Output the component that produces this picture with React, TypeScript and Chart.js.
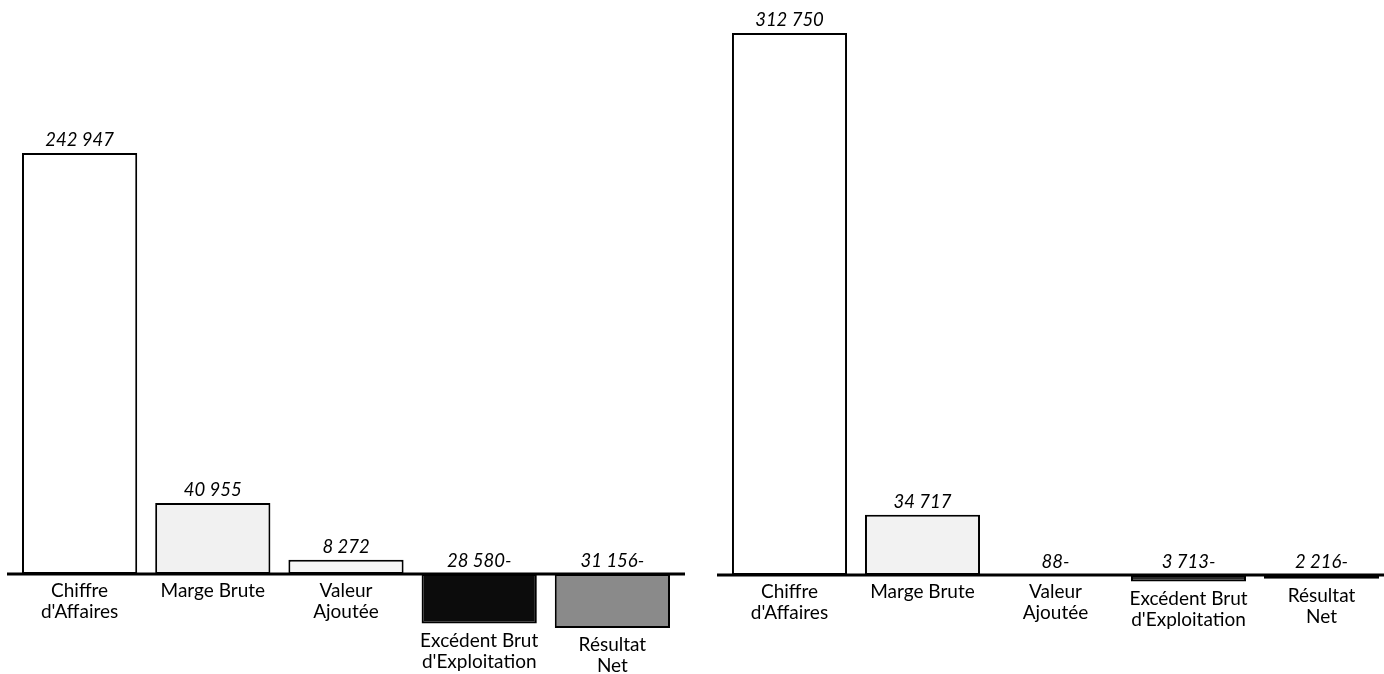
import React, { useEffect, useRef } from "react";
import { Chart, registerables } from "chart.js";

Chart.register(...registerables);

const CATEGORIES: string[][] = [
  ["Chiffre", "d'Affaires"],
  ["Marge Brute"],
  ["Valeur", "Ajoutée"],
  ["Excédent Brut", "d'Exploitation"],
  ["Résultat", "Net"],
];
const LEFT_VALUES = [242947, 40955, 8272, -28580, -31156];
const RIGHT_VALUES = [312750, 34717, -88, -3713, -2216];
const LEFT_COLORS = ["#ffffff", "#f1f1f1", "#f5f5f5", "#0c0c0c", "#8a8a8a"];
const RIGHT_COLORS = ["#ffffff", "#f2f2f2", "#f5f5f5", "#2a2a2a", "#8e8e8e"];

const FONT = "Lato, 'Open Sans', sans-serif";

function fmt(v: number): string {
  const s = Math.abs(v)
    .toString()
    .replace(/\B(?=(\d{3})+(?!\d))/g, " ");
  return v < 0 ? s + "-" : s;
}

const labelsPlugin = {
  id: "labelsPlugin",
  afterDatasetsDraw(chart: any) {
    const ctx = chart.ctx;
    const meta = chart.getDatasetMeta(0);
    const data = chart.data.datasets[0].data as number[];
    const y0 = chart.scales.y.getPixelForValue(0);
    ctx.save();
    ctx.strokeStyle = "#000";
    ctx.lineWidth = 3;
    ctx.beginPath();
    ctx.moveTo(chart.chartArea.left - 6, y0);
    ctx.lineTo(chart.chartArea.right + 6, y0);
    ctx.stroke();
    ctx.fillStyle = "#000";
    ctx.textAlign = "center";
    ctx.textBaseline = "middle";
    meta.data.forEach((el: any, i: number) => {
      const v = data[i];
      const top = Math.min(el.y, el.base);
      const bottom = Math.max(el.y, el.base);
      ctx.font = "italic 18.5px " + FONT;
      const ly = v >= 0 ? top - 13 : y0 - 13;
      ctx.fillText(fmt(v), el.x, ly);
      ctx.font = "19px " + FONT;
      const lines = CATEGORIES[i];
      lines.forEach((t, k) => {
        ctx.fillText(t, el.x, bottom + 17 + k * 21);
      });
    });
    ctx.restore();
  },
};

function BarChart(props: {
  values: number[];
  colors: string[];
  min: number;
  max: number;
  padLeft: number;
  padRight: number;
  width: number;
  left: number;
}) {
  const ref = useRef<HTMLCanvasElement>(null);
  useEffect(() => {
    const chart = new Chart(ref.current as HTMLCanvasElement, {
      type: "bar",
      data: {
        labels: CATEGORIES.map((c) => c.join(" ")),
        datasets: [
          {
            data: props.values,
            backgroundColor: props.colors,
            borderColor: "#000",
            borderWidth: 2,
            borderSkipped: false,
            barPercentage: 0.865,
            categoryPercentage: 1,
          },
        ],
      },
      options: {
        responsive: false,
        animation: false,
        devicePixelRatio: 1,
        layout: {
          padding: { left: props.padLeft, right: props.padRight, top: 0, bottom: 0 },
        },
        plugins: { legend: { display: false }, tooltip: { enabled: false } },
        scales: {
          x: { display: false, offset: true, grid: { display: false } },
          y: { display: false, min: props.min, max: props.max },
        },
      },
      plugins: [labelsPlugin],
    });
    return () => chart.destroy();
  }, []);
  return (
    <canvas
      ref={ref}
      width={props.width}
      height={674}
      style={{ position: "absolute", left: props.left, top: 0, width: props.width, height: 674 }}
    />
  );
}

export default function App() {
  return (
    <div
      style={{
        position: "fixed",
        left: 0,
        top: 0,
        width: 1384,
        height: 674,
        overflow: "hidden",
        background: "#fff",
      }}
    >
      <BarChart values={LEFT_VALUES} colors={LEFT_COLORS} min={-57700} max={331198} padLeft={13} padRight={16} width={695} left={0} />
      <BarChart values={RIGHT_VALUES} colors={RIGHT_COLORS} min={-57123} max={331775} padLeft={23} padRight={12} width={700} left={700} />
    </div>
  );
}
